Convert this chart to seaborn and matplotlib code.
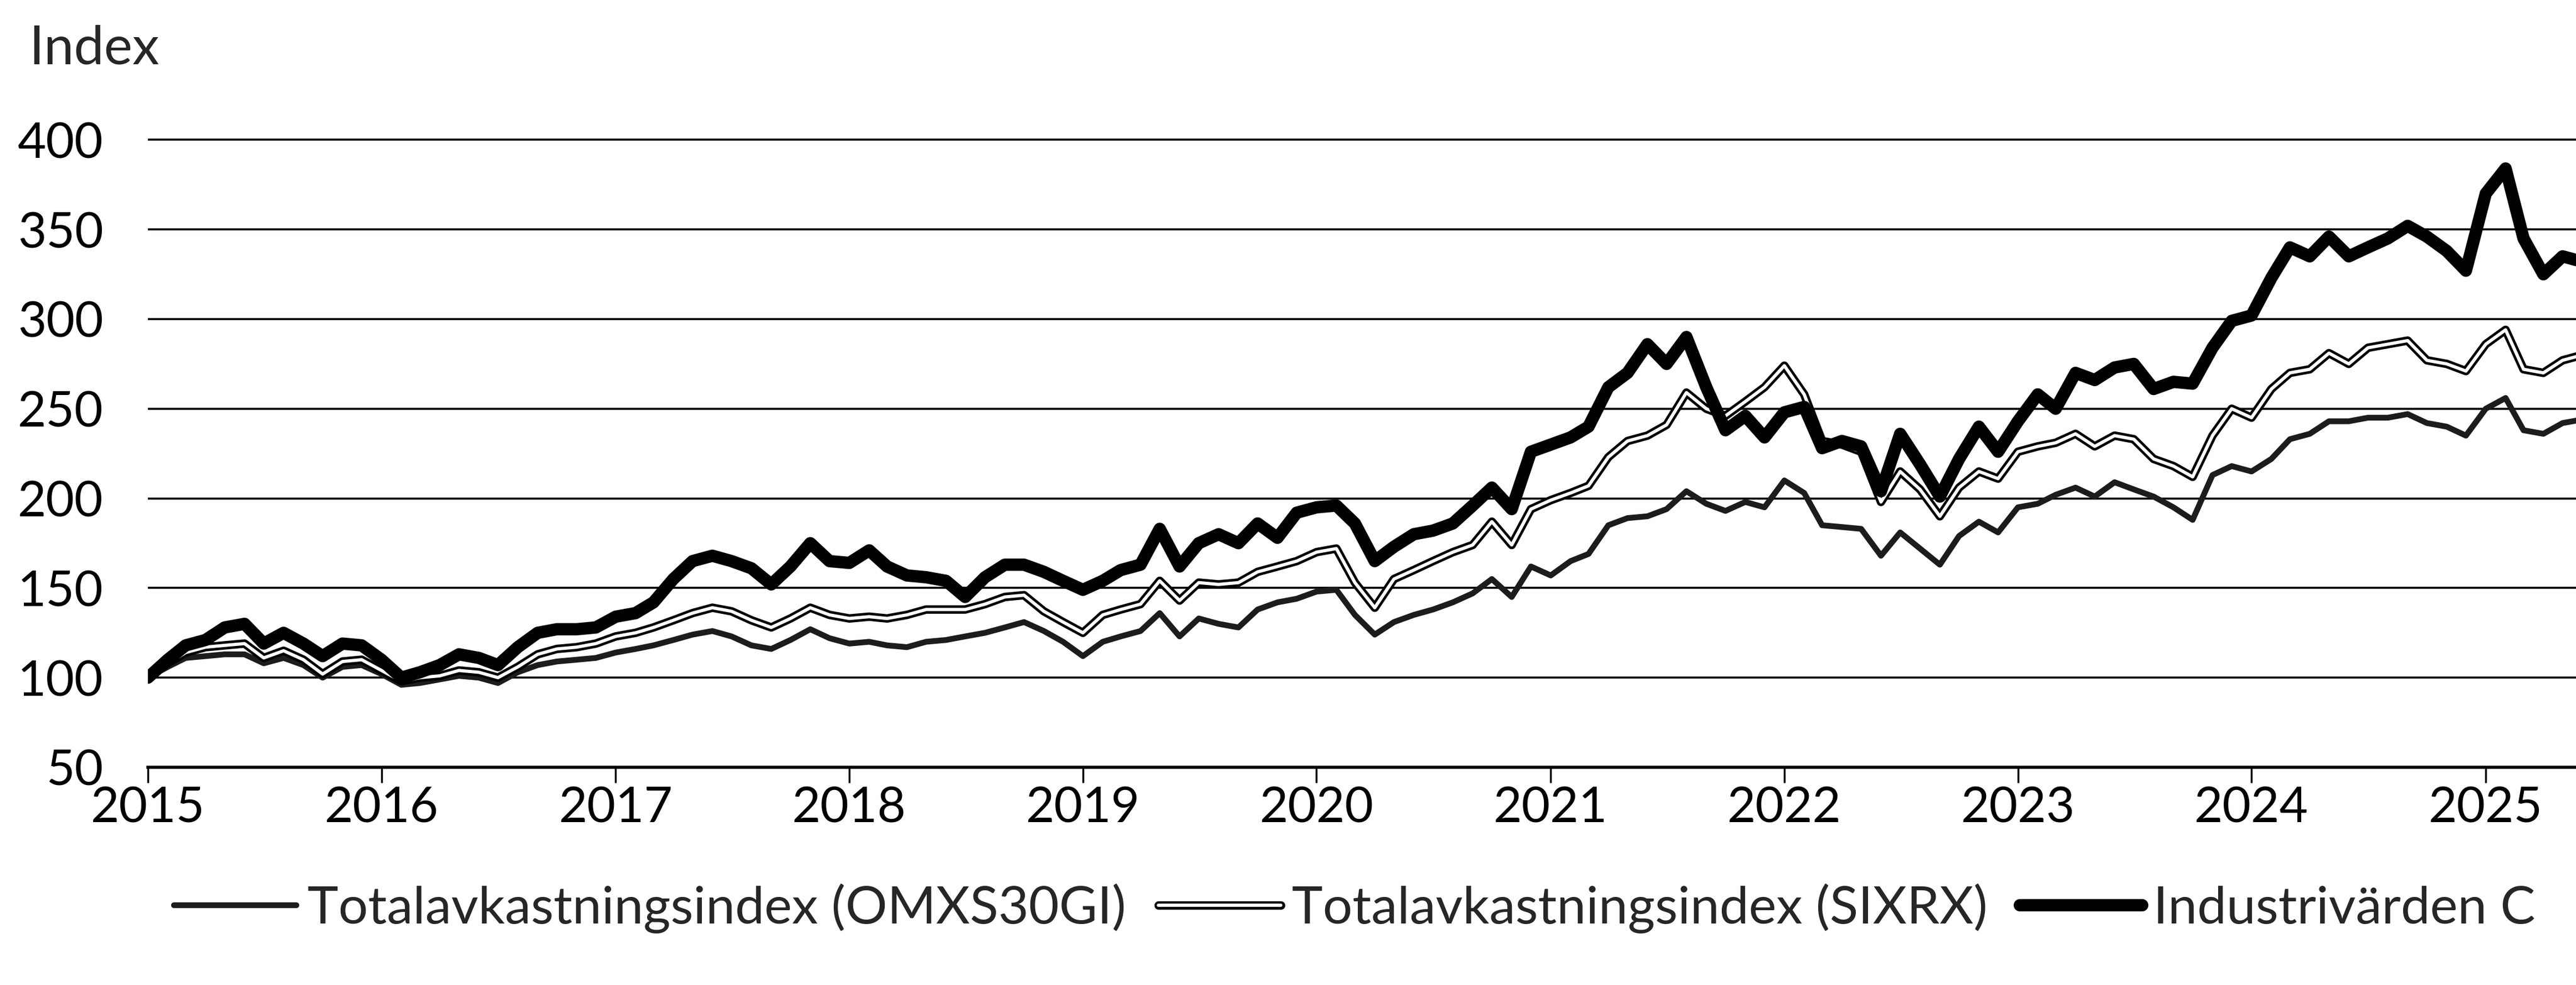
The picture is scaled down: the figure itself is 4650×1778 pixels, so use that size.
import matplotlib
matplotlib.use('Agg')
import matplotlib.pyplot as plt
import matplotlib.patheffects as pe
import pandas as pd
import seaborn as sns

# ----------
# values, monthly, jan 2015 = 100
# ----------
months = pd.date_range('2015-01-01', periods=126, freq='MS')

omxs30gi = [100, 106, 111, 112, 113, 113, 108, 111, 107, 100, 106, 107,
            102, 96, 97, 99, 101, 100, 97, 103, 107, 109, 110, 111,
            114, 116, 118, 121, 124, 126, 123, 118, 116, 121, 127, 122,
            119, 120, 118, 117, 120, 121, 123, 125, 128, 131, 126, 120,
            112, 120, 123, 126, 136, 123, 133, 130, 128, 138, 142, 144,
            148, 149, 135, 124, 131, 135, 138, 142, 147, 155, 145, 162,
            157, 165, 169, 185, 189, 190, 194, 204, 197, 193, 198, 195,
            210, 203, 185, 184, 183, 168, 181, 172, 163, 179, 187, 181,
            195, 197, 202, 206, 201, 209, 205, 201, 195, 188, 213, 218,
            215, 222, 233, 236, 243, 243, 245, 245, 247, 242, 240, 235,
            250, 256, 238, 236, 242, 244]

sixrx = [100, 108, 114, 117, 118, 119, 111, 115, 110, 102, 109, 110,
         104, 98, 100, 101, 104, 103, 100, 106, 113, 116, 117, 119,
         123, 125, 128, 132, 136, 139, 137, 132, 128, 133, 139, 135,
         133, 134, 133, 135, 138, 138, 138, 141, 145, 146, 137, 131,
         125, 135, 138, 141, 154, 143, 153, 152, 153, 159, 162, 165,
         170, 172, 153, 139, 155, 160, 165, 170, 174, 187, 174, 194,
         199, 203, 207, 223, 232, 235, 241, 259, 250, 246, 254, 262,
         274, 258, 232, 230, 226, 198, 215, 205, 190, 206, 215, 211,
         226, 229, 231, 236, 229, 235, 233, 222, 218, 212, 235, 250,
         245, 261, 270, 272, 281, 275, 284, 286, 288, 277, 275, 271,
         286, 294, 272, 270, 277, 280]

industrivarden_c = [100, 110, 118, 121, 128, 130, 119, 125, 119, 112, 119, 118,
                    110, 100, 103, 107, 113, 111, 107, 117, 125, 127, 127, 128,
                    134, 136, 142, 155, 165, 168, 165, 161, 152, 162, 175, 165,
                    164, 171, 162, 157, 156, 154, 145, 156, 163, 163, 159, 154,
                    149, 154, 160, 163, 183, 162, 175, 180, 175, 186, 178, 192,
                    195, 196, 186, 165, 173, 180, 182, 186, 196, 206, 194, 226,
                    230, 234, 240, 262, 270, 286, 275, 290, 262, 238, 246, 234,
                    248, 251, 228, 232, 229, 204, 236, 219, 201, 222, 240, 226,
                    243, 258, 250, 270, 266, 273, 275, 261, 265, 264, 284, 299,
                    302, 323, 340, 335, 346, 335, 340, 345, 352, 346, 338, 327,
                    370, 384, 345, 325, 335, 332]

series_labels = ['Totalavkastningsindex (OMXS30GI)',
                 'Totalavkastningsindex (SIXRX)',
                 'Industrivärden C']
years = list(range(2015, 2026))
yticks = [50, 100, 150, 200, 250, 300, 350, 400]

# ----------
# style
# ----------
sns.set_theme(style='white')
plt.rcParams['font.family'] = ['Lato', 'DejaVu Sans']

W, H = 4650, 1778
fig = plt.figure(figsize=(W / 100, H / 100), dpi=100)
ax = fig.add_axes([267 / W, 393 / H, 1 - 267 / W, (1558 - 393) / H])

# ----------
# the three lines
# ----------
sns.lineplot(x=months, y=omxs30gi, ax=ax, color='#1c1c1c', linewidth=7.5,
             label=series_labels[0], zorder=3)
sns.lineplot(x=months, y=sixrx, ax=ax, color='white', linewidth=4.2,
             label=series_labels[1], zorder=4,
             path_effects=[pe.Stroke(linewidth=11, foreground='black'), pe.Normal()])
sns.lineplot(x=months, y=industrivarden_c, ax=ax, color='black', linewidth=16,
             label=series_labels[2], zorder=5)

# ----------
# axes
# ----------
ax.set_ylim(50, 410)
ax.set_xlim(pd.Timestamp('2015-01-01'), pd.Timestamp('2025-05-22'))
ax.set_yticks(yticks)
ax.set_xticks([pd.Timestamp(f'{y}-01-01') for y in years])
ax.set_xticklabels([str(y) for y in years])
ax.set_xlabel('')
ax.set_ylabel('')

ax.yaxis.grid(True, color='black', linewidth=2.6)
ax.xaxis.grid(False)
ax.set_axisbelow(True)
for s in ['left', 'right', 'top']:
    ax.spines[s].set_visible(False)
ax.spines['bottom'].set_color('black')
ax.spines['bottom'].set_linewidth(4)

ax.tick_params(axis='y', length=0, pad=58, labelsize=64, colors='black')
ax.tick_params(axis='x', length=20, width=2.5, direction='out', pad=4,
               labelsize=64, colors='black', bottom=True)

fig.text(52 / W, 1 - 88 / H, 'Index', fontsize=70, va='center', ha='left')

# ----------
# legend below
# ----------
handles, labels = ax.get_legend_handles_labels()
if ax.get_legend() is not None:
    ax.get_legend().remove()
fig.legend(handles, labels, loc='center', bbox_to_anchor=(0.5259, 1 - 1640 / H),
           ncol=3, frameon=False, fontsize=68, handlelength=2.34,
           handletextpad=0.21, columnspacing=0.62, borderpad=0)

fig.savefig('out.png', dpi=100, facecolor='white')
